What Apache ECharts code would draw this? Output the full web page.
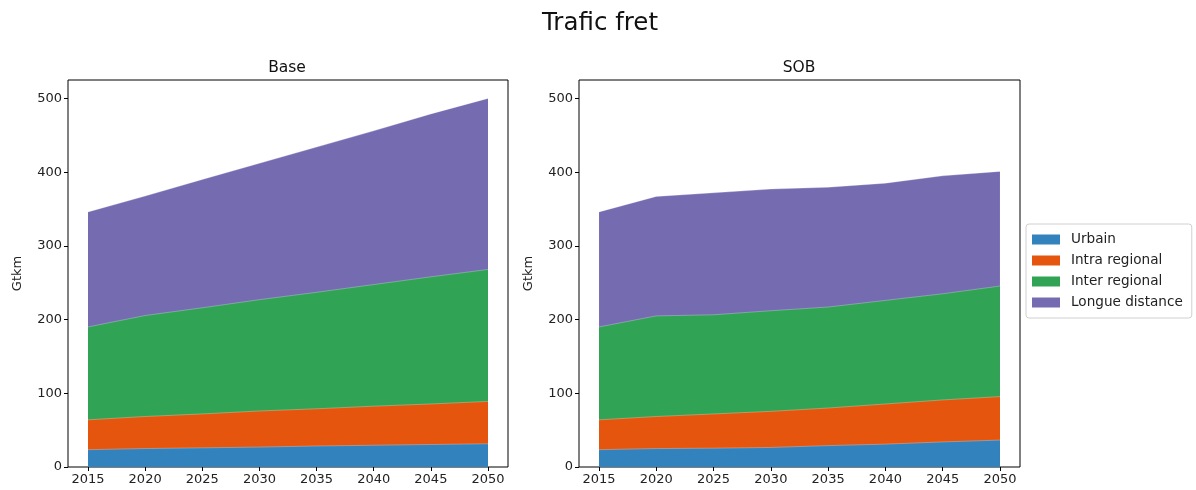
<!DOCTYPE html>
<html>
<head>
<meta charset="utf-8">
<script src="https://cdn.jsdelivr.net/npm/echarts@6/dist/echarts.min.js"></script>
<style>
html,body{margin:0;padding:0;background:#fff;}
#c{width:1196px;height:490px;}
</style>
</head>
<body>
<div id="c"></div>
<script>
const years = [2015, 2020, 2025, 2030, 2035, 2040, 2045, 2050];
const seriesNames = ['Urbain', 'Intra regional', 'Inter regional', 'Longue distance'];
const xTicks = [2015, 2020, 2025, 2030, 2035, 2040, 2045, 2050];
const yTicks = [0, 100, 200, 300, 400, 500];
const panelTitles = ['Base', 'SOB'];
const mainTitle = 'Trafic fret';
const yName = 'Gtkm';

// Base scenario (component values, stacked)
const baseUrbain   = [23.5, 25, 26, 27, 28.5, 29.5, 30.5, 31.5];
const baseIntra    = [40.5, 43.5, 46, 49, 50.5, 53, 55, 57.5];
const baseInter    = [126, 137, 144, 151, 158, 165, 172.5, 179];
const baseLongue   = [156, 162, 174, 185, 197, 208.5, 221, 232];

// SOB scenario
const sobUrbain    = [23.5, 25, 25.5, 26.5, 29, 31, 34, 36.5];
const sobIntra     = [40.5, 43.5, 46.5, 49, 51, 54.5, 57, 59];
const sobInter     = [126, 136.5, 134.5, 136.5, 137, 140.5, 144, 150];
const sobLongue    = [156, 162, 165.5, 165, 162.5, 159, 160, 155.5];

const colors = ['#3182bd', '#e6550d', '#31a354', '#756bb1'];

const panels = [
  [baseUrbain, baseIntra, baseInter, baseLongue],
  [sobUrbain, sobIntra, sobInter, sobLongue]
];

const font = 'DejaVu Sans';
const grids = [
  {left: 68, top: 80, width: 440, height: 387},
  {left: 579, top: 80, width: 441, height: 387}
];

const xAxes = grids.map((g, i) => ({
  type: 'value', gridIndex: i, min: 2013.25, max: 2051.75,
  axisLine: {show: false},
  splitLine: {show: false},
  axisTick: {show: true, length: 4, inside: false, customValues: xTicks, lineStyle: {color: '#000', width: 1}},
  axisLabel: {customValues: xTicks, margin: 6, color: '#222', fontFamily: font, fontSize: 13,
              formatter: v => String(v)}
}));
const yAxes = grids.map((g, i) => ({
  type: 'value', gridIndex: i, min: 0, max: 525,
  name: yName, nameLocation: 'middle', nameGap: 44, nameRotate: 90,
  nameTextStyle: {color: '#222', fontFamily: font, fontSize: 13},
  axisLine: {show: false},
  splitLine: {show: false},
  axisTick: {show: true, length: 4, inside: false, customValues: yTicks, lineStyle: {color: '#000', width: 1}},
  axisLabel: {customValues: yTicks, margin: 6, color: '#222', fontFamily: font, fontSize: 13,
              formatter: v => String(v)}
}));

// Stack manually: each layer filled from 0 up to its cumulative top, drawn top-layer first.
const series = [];
panels.forEach((vals, p) => {
  const cum = [];
  vals.forEach((arr, k) => {
    cum.push(arr.map((v, j) => v + (k > 0 ? cum[k - 1][j] : 0)));
  });
  for (let k = vals.length - 1; k >= 0; k--) {
    series.push({
      name: seriesNames[k], type: 'line', xAxisIndex: p, yAxisIndex: p,
      symbol: 'none', showSymbol: false, z: 2 + (vals.length - k),
      lineStyle: {width: 0.6, color: 'rgba(255,255,255,0.45)'},
      areaStyle: {color: colors[k], opacity: 1, origin: 'start'},
      itemStyle: {color: colors[k]},
      emphasis: {disabled: true},
      data: years.map((y, j) => [y, cum[k][j]])
    });
  }
});

const gText = (txt, x, y, size) => ({
  type: 'text', x: x, y: y, silent: true,
  style: {text: txt, fontFamily: font, fontSize: size, fill: '#111', align: 'center', verticalAlign: 'middle'}
});

const chart = echarts.init(document.getElementById('c'), null, {renderer: 'canvas'});
chart.setOption({
  animation: false,
  backgroundColor: '#fff',
  graphic: [
    gText(mainTitle, 600, 24, 24.5),
    gText(panelTitles[0], 287, 68, 15.5),
    gText(panelTitles[1], 799, 68, 15.5)
  ],
  legend: {
    orient: 'vertical', left: 1026, top: 224,
    data: seriesNames.map((n, k) => ({name: n, icon: 'rect', itemStyle: {color: colors[k]}})),
    itemWidth: 28, itemHeight: 10, itemGap: 6,
    padding: [8, 9, 8, 6],
    borderColor: '#d0d0d0', borderWidth: 1, borderRadius: 3,
    textStyle: {fontFamily: font, fontSize: 13.6, color: '#222', lineHeight: 15, padding: [0, 0, 0, 6]},
    selectedMode: false
  },
  grid: grids.map(g => Object.assign({show: true, borderColor: '#000', borderWidth: 1, backgroundColor: 'transparent'}, g)),
  xAxis: xAxes,
  yAxis: yAxes,
  series: series
});
</script>
</body>
</html>
